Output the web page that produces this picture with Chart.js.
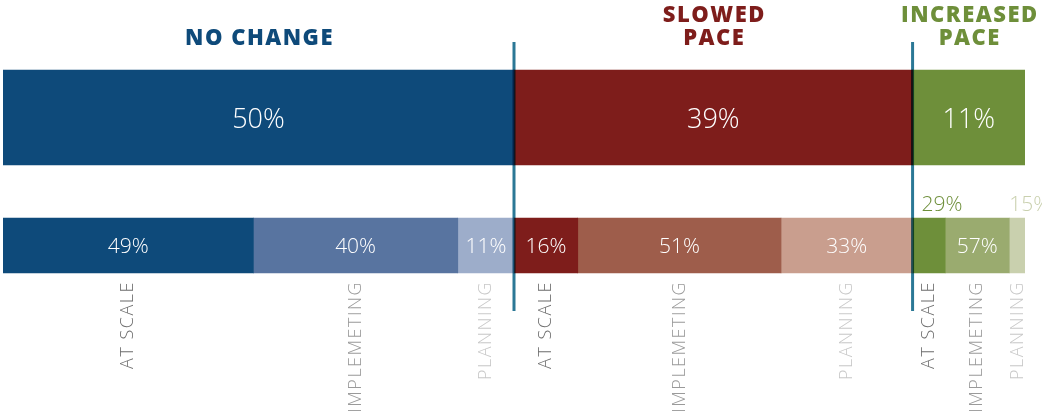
<!DOCTYPE html>
<html>
<head>
<meta charset="utf-8">
<script src="https://cdn.jsdelivr.net/npm/chart.js@4"></script>
<style>
  html, body { margin: 0; padding: 0; background: #ffffff; }
  #wrap { width: 1042px; height: 418px; }
</style>
</head>
<body>
<div id="wrap"><canvas id="c" width="1042" height="418"></canvas></div>
<script>
// ---- data ----
const groups = ['NO CHANGE', 'SLOWED PACE', 'INCREASED PACE'];
const groupValues = [50, 39, 11];
const stages = ['AT SCALE', 'IMPLEMETING', 'PLANNING'];
const noChangeShares = [49, 40, 11];
const slowedShares = [16, 51, 33];
const increasedShares = [29, 57, 15];
const rows = ['total', 'detail'];

// ---- styles ----
const groupColors = ['#0e4a7a', '#7e1d1b', '#6e8f3a'];
const stageColors = [
  ['#0e4a7a', '#5874a0', '#9dadca'],
  ['#7e1d1b', '#9e5d4b', '#c99e8e'],
  ['#6e8f3a', '#9aab6f', '#c9d0ae']
];
const stageLabelColors = ['#6e6e6e', '#9a9a9a', '#c8c8c8'];
const shares = [noChangeShares, slowedShares, increasedShares];

const datasets = [];
groups.forEach((g, i) => {
  datasets.push({
    label: g, data: [groupValues[i], null], pct: groupValues[i],
    backgroundColor: groupColors[i], barThickness: 95, kind: 'group', gi: i
  });
});
groups.forEach((g, i) => {
  shares[i].forEach((s, j) => {
    datasets.push({
      label: g + ' ' + stages[j], data: [null, groupValues[i] * s / 100], pct: s,
      backgroundColor: stageColors[i][j], barThickness: 55, kind: 'stage', gi: i, sj: j
    });
  });
});

const FONT = '"Open Sans", sans-serif';

const annot = {
  id: 'annot',
  afterDatasetsDraw(chart) {
    const ctx = chart.ctx;
    const metas = chart.data.datasets.map((d, i) => chart.getDatasetMeta(i));
    ctx.save();
    // value labels
    chart.data.datasets.forEach((ds, di) => {
      const el = metas[di].data[ds.kind === 'group' ? 0 : 1];
      if (!el) return;
      const left = Math.min(el.x, el.base), right = Math.max(el.x, el.base);
      const w = right - left;
      const cx = (left + right) / 2;
      ctx.letterSpacing = '0px';
      if (ds.kind === 'group') {
        ctx.font = '300 27px ' + FONT;
        ctx.fillStyle = '#ffffff';
        ctx.textAlign = 'center'; ctx.textBaseline = 'middle';
        ctx.fillText(ds.pct + '%', cx, el.y + 3);
      } else {
        ctx.font = '300 21px ' + FONT;
        const txt = ds.pct + '%';
        if (w >= 40) {
          ctx.fillStyle = '#ffffff';
          ctx.textAlign = 'center'; ctx.textBaseline = 'middle';
          ctx.fillText(txt, cx, el.y + 2);
        } else {
          const tw = ctx.measureText(txt).width;
          let x0 = left + 9;
          if (x0 + tw > chart.width) x0 = left;
          ctx.fillStyle = ds.backgroundColor;
          ctx.textAlign = 'left'; ctx.textBaseline = 'middle';
          ctx.fillText(txt, x0, el.y - el.height / 2 - 13);
        }
        // rotated stage label
        ctx.save();
        ctx.translate(cx, el.y + el.height / 2 + 8);
        ctx.rotate(-Math.PI / 2);
        ctx.font = '300 18px ' + FONT;
        ctx.letterSpacing = '1.5px';
        ctx.fillStyle = stageLabelColors[ds.sj];
        ctx.textAlign = 'right'; ctx.textBaseline = 'middle';
        ctx.fillText(stages[ds.sj], 0, 0);
        ctx.restore();
      }
    });
    // group headers
    chart.data.datasets.forEach((ds, di) => {
      if (ds.kind !== 'group') return;
      const el = metas[di].data[0];
      const cx = (el.x + el.base) / 2;
      const lines = ds.label === 'NO CHANGE' ? [ds.label] : ds.label.split(' ');
      ctx.font = '800 22px ' + FONT;
      ctx.letterSpacing = '1.5px';
      ctx.fillStyle = groupColors[ds.gi];
      ctx.textAlign = 'center'; ctx.textBaseline = 'alphabetic';
      const topY = el.y - el.height / 2;
      lines.forEach((ln, k) => {
        ctx.fillText(ln, cx + 1, topY - 25 - (lines.length - 1 - k) * 23);
      });
    });
    // divider lines
    ctx.letterSpacing = '0px';
    ctx.globalCompositeOperation = 'multiply';
    ctx.strokeStyle = '#2b7896';
    ctx.lineWidth = 3;
    for (let gi = 0; gi < groups.length - 1; gi++) {
      const el = metas[gi].data[0];
      const x = Math.max(el.x, el.base);
      ctx.beginPath();
      ctx.moveTo(x, 42);
      ctx.lineTo(x, 311);
      ctx.stroke();
    }
    ctx.restore();
  }
};

new Chart(document.getElementById('c'), {
  type: 'bar',
  data: { labels: rows, datasets },
  options: {
    indexAxis: 'y',
    responsive: false,
    animation: false,
    layout: { padding: { left: 3, right: 17, top: 53.5, bottom: 108.5 } },
    scales: {
      x: { stacked: true, min: 0, max: 100, display: false },
      y: { stacked: true, display: false }
    },
    plugins: { legend: { display: false }, tooltip: { enabled: false } },
    datasets: { bar: { borderWidth: 0, borderSkipped: false } }
  },
  plugins: [annot]
});
</script>
</body>
</html>
